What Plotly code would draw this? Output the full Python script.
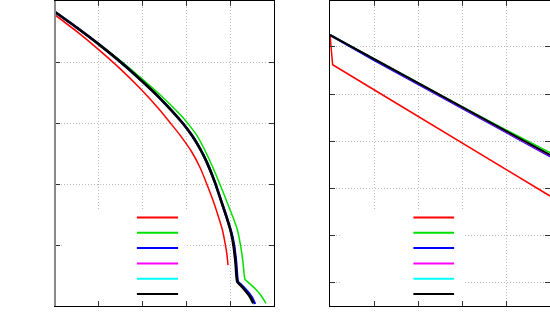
import plotly.graph_objects as go
from plotly.subplots import make_subplots

# ---------------- data: left panel ----------------
L_black_x = [0, 0.502, 0.989, 1.484, 1.941, 2.397, 2.922, 3.128, 3.311, 3.470, 3.653, 3.813, 3.927, 4.018, 4.075, 4.121, 4.162, 4.235, 4.361, 4.463, 4.527]
L_black_y = [4.820, 4.562, 4.297, 4.007, 3.716, 3.405, 2.992, 2.794, 2.578, 2.350, 2.023, 1.683, 1.438, 1.209, 0.997, 0.719, 0.397, 0.343, 0.237, 0.139, 0.044]
L_blue_x = [0, 0.502, 0.989, 1.484, 1.941, 2.397, 2.922, 3.128, 3.311, 3.470, 3.653, 3.813, 3.927, 4.025, 4.088, 4.135, 4.178, 4.258, 4.395, 4.498, 4.566]
L_blue_y = [4.820, 4.562, 4.297, 4.007, 3.716, 3.405, 2.992, 2.794, 2.578, 2.350, 2.023, 1.683, 1.438, 1.209, 0.997, 0.719, 0.397, 0.343, 0.237, 0.139, 0.033]
L_green_x = [0, 0.502, 0.989, 1.484, 1.941, 2.397, 2.671, 2.900, 3.082, 3.242, 3.402, 3.584, 3.767, 3.938, 4.064, 4.167, 4.235, 4.292, 4.338, 4.418, 4.566, 4.703, 4.817]
L_green_y = [4.820, 4.562, 4.302, 4.028, 3.753, 3.464, 3.276, 3.105, 2.949, 2.794, 2.582, 2.304, 1.993, 1.683, 1.454, 1.242, 0.997, 0.719, 0.436, 0.384, 0.286, 0.172, 0.044]
L_red_x = [0, 0.502, 0.989, 1.484, 1.941, 2.397, 2.626, 2.854, 3.116, 3.311, 3.470, 3.607, 3.733, 3.824, 3.893, 3.927, 3.950]
L_red_y = [4.771, 4.497, 4.208, 3.892, 3.569, 3.209, 3.007, 2.802, 2.533, 2.271, 1.993, 1.732, 1.459, 1.242, 0.989, 0.833, 0.670]

# ---------------- data: right panel ----------------
R_x = [0, 1, 2, 3, 4, 5]
R_black_y = [5.25, 4.74, 4.23, 3.72, 3.22, 2.71]
R_cyan_y = [5.25, 4.74, 4.23, 3.72, 3.22, 2.71]
R_blue_y = [5.25, 4.72, 4.21, 3.70, 3.19, 2.68]
R_magenta_y = [5.25, 4.73, 4.22, 3.71, 3.20, 2.69]
R_green_y = [5.25, 4.74, 4.23, 3.73, 3.24, 2.76]
R_red_x = [0, 0.06, 1, 2, 3, 4, 5]
R_red_y = [5.25, 4.62, 4.09, 3.53, 2.97, 2.40, 1.84]

grid_ticks_L = [1, 2, 3, 4]
grid_ticks_R_x = [1, 2, 3, 4]
grid_ticks_R_y = [0, 1, 2, 3, 4, 5]

COLORS = ["#ff0000", "#00e000", "#0000ff", "#ff00ff", "#00ffff", "#000000"]

fig = make_subplots(rows=1, cols=2, horizontal_spacing=0.0)

def add(x, y, color, width, col, shape="linear"):
    fig.add_trace(go.Scatter(x=x, y=y, mode="lines",
                             line=dict(color=color, width=width, shape=shape, smoothing=0.5),
                             showlegend=False, hoverinfo="skip"), row=1, col=col)

# left
add(L_red_x, L_red_y, COLORS[0], 1.5, 1, "spline")
add(L_green_x, L_green_y, COLORS[1], 1.5, 1, "spline")
add(L_blue_x, L_blue_y, COLORS[2], 2.5, 1, "spline")
add(L_black_x, L_black_y, COLORS[3], 1.5, 1, "spline")
add(L_black_x, L_black_y, COLORS[4], 1.5, 1, "spline")
add(L_black_x, L_black_y, COLORS[5], 2.6, 1, "spline")
# right
add(R_red_x, R_red_y, COLORS[0], 1.5, 2)
add(R_x, R_green_y, COLORS[1], 1.5, 2)
add(R_x, R_blue_y, COLORS[2], 2, 2)
add(R_x, R_magenta_y, COLORS[3], 1.5, 2)
add(R_x, R_cyan_y, COLORS[4], 1.5, 2)
add(R_x, R_black_y, COLORS[5], 2, 2)

axis_common = dict(showline=True, linecolor="black", linewidth=1, mirror="ticks",
                   ticks="inside", ticklen=5, tickcolor="#333333", tickwidth=1,
                   showticklabels=False, showgrid=True, gridcolor="#bdbdbd",
                   griddash="1px,2px", gridwidth=1, zeroline=False, fixedrange=True,
                   automargin=False)

fig.update_xaxes(domain=[55/550, 274/550], range=[0, 5], tickvals=grid_ticks_L, row=1, col=1, **axis_common)
fig.update_yaxes(range=[0, 5], tickvals=grid_ticks_L, row=1, col=1, **axis_common)
fig.update_xaxes(domain=[330/550, 1.0], range=[0, 5], tickvals=grid_ticks_R_x, row=1, col=2, **axis_common)
fig.update_yaxes(range=[-0.49, 5.97], tickvals=grid_ticks_R_y, row=1, col=2, **axis_common)

# legend boxes (the reference shows line samples only, no text)
leg_y = [0.290, 0.240, 0.190, 0.139, 0.089, 0.039]
shapes = []
for xr, yr, bx0, bx1, sx0, sx1 in [("x domain", "y domain", 0.037, 0.603, 0.374, 0.562),
                                   ("x2 domain", "y2 domain", 0.045, 0.605, 0.379, 0.564)]:
    shapes.append(dict(type="rect", xref=xr, yref=yr, x0=bx0, x1=bx1, y0=0.02, y1=0.315,
                       fillcolor="white", line=dict(width=0), layer="above"))
    for c, yy in zip(COLORS, leg_y):
        shapes.append(dict(type="line", xref=xr, yref=yr, x0=sx0, x1=sx1, y0=yy, y1=yy,
                           line=dict(color=c, width=2), layer="above"))
# softer left border of the left panel, as in the reference
shapes.append(dict(type="line", xref="x domain", yref="y domain", x0=0, x1=0, y0=0, y1=1,
                   line=dict(color="#8a8a8a", width=2), layer="above"))

fig.update_layout(width=550, height=314, margin=dict(l=0, r=0, t=1, b=8, autoexpand=False),
                  paper_bgcolor="white", plot_bgcolor="white", shapes=shapes)

fig.write_html("out.html", config={"displayModeBar": False},
               post_script="document.body.style.margin='0';document.body.style.padding='0';")
